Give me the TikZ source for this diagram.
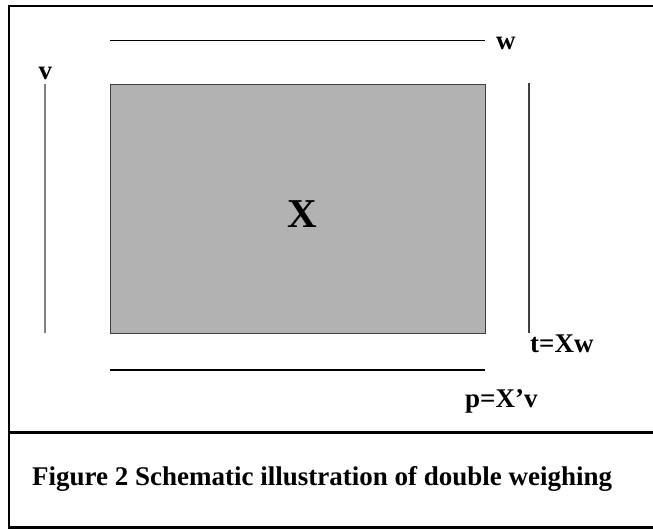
\documentclass[tikz,border=0pt]{standalone}
\usepackage{fontspec}
\setmainfont{Liberation Serif}
\usetikzlibrary{positioning,calc}
\definecolor{Gris}{HTML}{B2B2B2}
\definecolor{Trait}{HTML}{808080}
\definecolor{Bord}{HTML}{404040}

\begin{document}
\begin{tikzpicture}[x=1pt,y=-1pt,
    lbl/.style={inner sep=0pt, anchor=base west, font=\fontsize{27}{31}\selectfont\bfseries}]
        \useasboundingbox (0,0) rectangle (653,529);
        \fill[white] (0,0) rectangle (653,529);
        % cadre et legende
        \draw[line width=2.5pt] (656,6) -- (9,6) -- (9,527.5) -- (656,527.5);
        \draw[line width=2.5pt] (9,432.5) -- (656,432.5);
        \node[lbl] (legende) at (32,485) {Figure 2 Schematic illustration of double weighing};
        % matrice X
        \node[draw=Bord, fill=Gris, line width=1.2pt, inner sep=0pt, anchor=north west,
              minimum width=375pt, minimum height=249pt] (mat) at (110,84) {};
        \node[anchor=base, inner sep=0pt, font=\fontsize{41}{45}\selectfont\bfseries] (nomX) at (302,228) {X};
        % vecteurs
        \coordinate (w0) at (110,40.5);  \coordinate (w1) at (485,40.5);
        \coordinate (p0) at (110,370);   \coordinate (p1) at (485,370);
        \coordinate (v0) at (45,84);     \coordinate (v1) at (45,333);
        \coordinate (t0) at (529,83);    \coordinate (t1) at (529,333);
        \draw[line width=1.3pt] (w0) -- (w1);
        \draw[line width=1.3pt] (p0) -- (p1);
        \draw[Trait, line width=1.5pt] (v0) -- (v1);
        \draw[Bord, line width=1.2pt] (t0) -- (t1);
        \foreach \nom/\txt/\pos in {w/w/{496,50}, v/v/{38.5,80}, t/t=Xw/{530,352}, p/p=X’v/{465,407}}{
          \node[lbl] (\nom) at (\pos) {\txt};
        }
      \end{tikzpicture}
\end{document}
